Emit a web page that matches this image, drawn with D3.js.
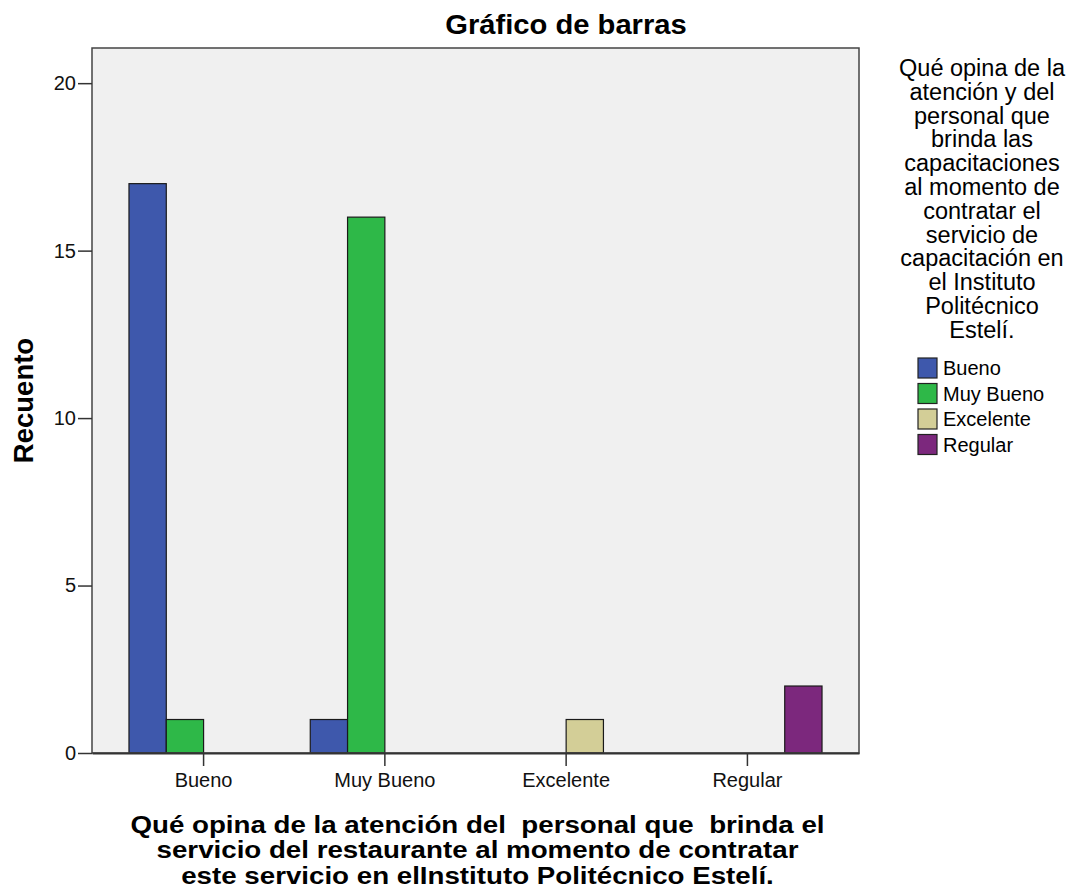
<!DOCTYPE html>
<html>
<head>
<meta charset="utf-8">
<script src="https://cdn.jsdelivr.net/npm/d3@7"></script>
<style>
    body { margin: 0; background: #ffffff; }
    text { font-family: "Liberation Sans", Arial, sans-serif; fill: #000; }
</style>
</head>
<body>
<div id="chart"></div>
<script>
// categories on the x axis and the legend series (same labels)
var categories = ["Bueno", "Muy Bueno", "Excelente", "Regular"];
var series = ["Bueno", "Muy Bueno", "Excelente", "Regular"];
var series_colors = ["#3e58ac", "#2eb848", "#d3ce97", "#7c287d"];

// counts: one array per legend series, indexed by x category
var counts_bueno = [17, 1, 0, 0];
var counts_muy_bueno = [1, 16, 0, 0];
var counts_excelente = [0, 0, 1, 0];
var counts_regular = [0, 0, 0, 2];

var y_ticks = [0, 5, 10, 15, 20];

var chart_title = "Gráfico de barras";
var y_title = "Recuento";
var x_title = [
    "Qué opina de la atención del  personal que  brinda el",
    "servicio del restaurante al momento de contratar",
    "este servicio en elInstituto Politécnico Estelí."
];
var legend_title = [
    "Qué opina de la", "atención y del", "personal que", "brinda las",
    "capacitaciones", "al momento de", "contratar el", "servicio de",
    "capacitación en", "el Instituto", "Politécnico", "Estelí."
];

function bar_chart() {
    var width = 1072, height = 890;
    var margin = { top: 48, right: 213, bottom: 137, left: 92 };
    var plot_w = width - margin.left - margin.right;
    var plot_h = height - margin.top - margin.bottom;

    var svg = d3.select("#chart")
        .append("svg")
        .attr("width", width)
        .attr("height", height);

    var g = svg.append("g")
        .attr("transform", "translate(" + margin.left + "," + margin.top + ")");

    // build the rows for the clustered bars
    var all_counts = [counts_bueno, counts_muy_bueno, counts_excelente, counts_regular];
    var data = [];
    categories.forEach(function (c, i) {
        series.forEach(function (s, j) {
            data.push({ category: c, series: s, value: all_counts[j][i], color: series_colors[j] });
        });
    });

    var x0 = d3.scaleBand()
        .domain(categories)
        .range([0, plot_w])
        .paddingInner(0.177)
        .paddingOuter(0.204);

    var x1 = d3.scaleBand()
        .domain(series)
        .range([0, x0.bandwidth()]);

    var y = d3.scaleLinear()
        .domain([0, 21.05])
        .range([plot_h, 0]);

    // plot background
    g.append("rect")
        .attr("x", 0)
        .attr("y", 0)
        .attr("width", plot_w)
        .attr("height", plot_h)
        .style("fill", "#f0f0f0");

    // bars (zero counts are not drawn)
    g.selectAll(".bar")
        .data(data.filter(function (d) { return d.value > 0; }))
        .enter()
        .append("rect")
        .attr("class", "bar")
        .attr("x", function (d) { return x0(d.category) + x1(d.series); })
        .attr("y", function (d) { return y(d.value); })
        .attr("width", x1.bandwidth())
        .attr("height", function (d) { return y(0) - y(d.value); })
        .style("fill", function (d) { return d.color; })
        .style("stroke", "#1a1a1a")
        .style("stroke-width", 1.2);

    // frame
    g.append("rect")
        .attr("x", 0)
        .attr("y", 0)
        .attr("width", plot_w)
        .attr("height", plot_h)
        .style("fill", "none")
        .style("stroke", "#444")
        .style("stroke-width", 1.5);

    // y axis
    var y_axis = g.append("g")
        .style("font-size", "20px")
        .call(d3.axisLeft(y).tickValues(y_ticks)
            .tickSizeInner(14)
            .tickSizeOuter(0)
            .tickPadding(2));
    y_axis.select(".domain").remove();
    y_axis.selectAll("line").style("stroke", "#333").style("stroke-width", 1.5);
    y_axis.selectAll("text").style("font-family", "'Liberation Sans', Arial, sans-serif").style("fill", "#111");

    // x axis
    var x_axis = g.append("g")
        .attr("transform", "translate(0," + plot_h + ")")
        .style("font-size", "20px")
        .call(d3.axisBottom(x0)
            .tickSizeInner(13)
            .tickSizeOuter(0)
            .tickPadding(7));
    x_axis.select(".domain").style("stroke", "#333").style("stroke-width", 2);
    x_axis.selectAll("line").style("stroke", "#333").style("stroke-width", 1.5);
    x_axis.selectAll("text").style("font-family", "'Liberation Sans', Arial, sans-serif").style("fill", "#111");

    // title (SPSS output is a bit wider than the font)
    svg.append("text")
        .attr("transform", "translate(566,34) scale(1.08,1)")
        .attr("text-anchor", "middle")
        .style("font-size", "27px")
        .style("font-weight", "bold")
        .text(chart_title);

    // y title
    svg.append("text")
        .attr("transform", "translate(33," + (margin.top + plot_h / 2) + ") rotate(-90)")
        .attr("text-anchor", "middle")
        .style("font-size", "27.5px")
        .style("font-weight", "bold")
        .text(y_title);

    // x title
    svg.append("text")
        .attr("transform", "translate(" + (margin.left + plot_w / 2 + 2) + ",0) scale(1.155,1)")
        .attr("text-anchor", "middle")
        .style("font-size", "24px")
        .style("font-weight", "bold")
        .style("white-space", "pre")
        .selectAll("tspan")
        .data(x_title)
        .enter()
        .append("tspan")
        .attr("x", 0)
        .attr("y", function (d, i) { return 833 + i * 25.4; })
        .text(function (d) { return d; });

    // legend title
    svg.append("text")
        .attr("text-anchor", "middle")
        .style("font-size", "23.5px")
        .selectAll("tspan")
        .data(legend_title)
        .enter()
        .append("tspan")
        .attr("x", 982)
        .attr("y", function (d, i) { return 76 + i * 23.8; })
        .text(function (d) { return d; });

    // legend entries
    var legend = svg.append("g")
        .attr("transform", "translate(918,358)");

    var items = legend.selectAll(".item")
        .data(series)
        .enter()
        .append("g")
        .attr("class", "item")
        .attr("transform", function (d, i) { return "translate(0," + (i * 25.5) + ")"; });

    items.append("rect")
        .attr("width", 19)
        .attr("height", 20)
        .style("fill", function (d, i) { return series_colors[i]; })
        .style("stroke", "#222")
        .style("stroke-width", 1.2);

    items.append("text")
        .attr("x", 25)
        .attr("y", 17)
        .style("font-size", "20px")
        .text(function (d) { return d; });
}

bar_chart();
</script>
</body>
</html>
